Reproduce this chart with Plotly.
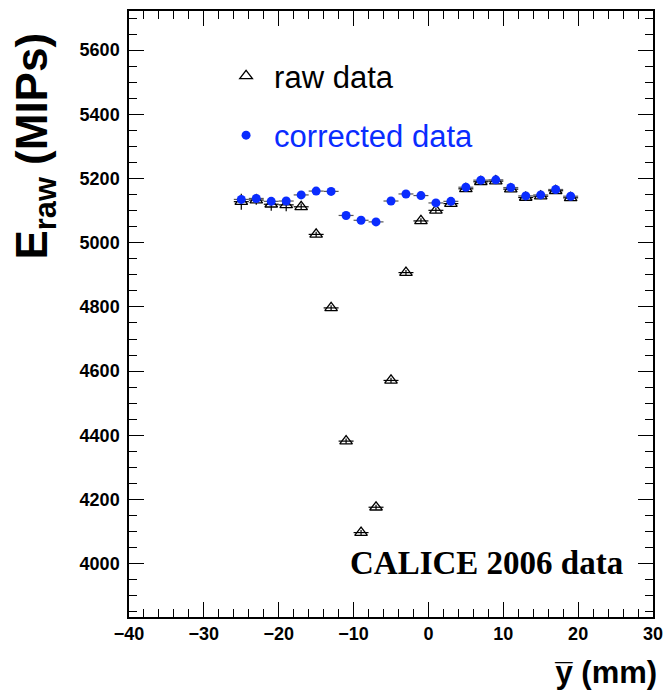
import plotly.graph_objects as go

y_pos = [-25, -23, -21, -19, -17, -15, -13, -11, -9, -7, -5, -3, -1, 1, 3, 5, 7, 9, 11, 13, 15, 17, 19]
raw_e = [5128, 5133, 5120, 5118, 5112, 5026, 4797, 4382, 4097, 4176, 4571, 4907, 5068, 5101, 5122,
         5168, 5190, 5192, 5167, 5141, 5145, 5162, 5140]
raw_err = [25, 15, 20, 20, 10, 8, 8, 8, 8, 8, 8, 8, 8, 8, 8, 8, 8, 8, 8, 8, 8, 8, 8]
corr_e = [5135, 5138, 5129, 5130, 5149, 5161, 5160, 5085, 5070, 5065, 5130, 5152, 5147, 5124, 5129,
          5173, 5195, 5196, 5172, 5146, 5149, 5166, 5145]
x_halfwidth = [1] * len(y_pos)

fig = go.Figure()
fig.add_trace(go.Scatter(
    x=y_pos, y=raw_e, mode="markers", name="raw data",
    marker=dict(symbol="triangle-up-open", size=11, color="black", line=dict(width=1.3, color="black")),
    error_x=dict(type="data", array=x_halfwidth, color="black", thickness=1.2, width=0),
    error_y=dict(type="data", array=raw_err, color="black", thickness=1.2, width=0),
    legendgroup="a",
))
fig.add_trace(go.Scatter(
    x=y_pos, y=corr_e, mode="markers",
    name="<span style='color:#0a2cff'>corrected data</span>",
    marker=dict(symbol="circle", size=9, color="#0a2cff"),
    error_x=dict(type="data", array=x_halfwidth, color="#555555", thickness=1.2, width=0),
    legendgroup="b",
))

axis_font = dict(family="Liberation Sans, Arial", size=18, color="black", weight="bold")
fig.update_xaxes(
    range=[-40, 30], tickmode="linear", tick0=-40, dtick=10,
    ticks="inside", ticklen=15, tickwidth=1.2, tickcolor="black",
    minor=dict(dtick=2, ticks="inside", ticklen=8, tickwidth=1.2, tickcolor="black", showgrid=False),
    showline=True, linecolor="black", linewidth=1.5, mirror="allticks",
    showgrid=False, zeroline=False, tickfont=axis_font, automargin=False,
)
fig.update_yaxes(
    range=[3834, 5722], tickmode="linear", tick0=4000, dtick=200,
    ticks="inside", ticklen=15, tickwidth=1.2, tickcolor="black",
    minor=dict(dtick=50, ticks="inside", ticklen=8, tickwidth=1.2, tickcolor="black", showgrid=False),
    showline=True, linecolor="black", linewidth=1.5, mirror="allticks",
    showgrid=False, zeroline=False, tickfont=axis_font, ticklabelstandoff=4, automargin=False,
)

fig.update_layout(
    width=666, height=695,
    margin=dict(l=129, r=13, t=11, b=78),
    paper_bgcolor="white", plot_bgcolor="white",
    showlegend=True,
    legend=dict(
        x=0.17, y=0.937, xanchor="left", yanchor="top",
        font=dict(family="Liberation Sans, Arial", size=31, color="black"),
        bgcolor="rgba(0,0,0,0)", traceorder="grouped", tracegroupgap=16, itemwidth=46,
    ),
    annotations=[
        dict(text="<b>CALICE 2006 data</b>", xref="paper", yref="paper", x=0.947, y=0.0886,
             xanchor="right", yanchor="middle", showarrow=False,
             font=dict(family="Liberation Serif, Times New Roman", size=33, color="black")),
        dict(text="<b>E<sub>raw</sub> (MIPs)</b>", xref="paper", yref="paper", x=-0.18, y=0.968,
             xanchor="center", yanchor="top", textangle=-90, showarrow=False,
             font=dict(family="Liberation Sans, Arial", size=44, color="black")),
        dict(text="<b>y\u0305 (mm)</b>", xref="paper", yref="paper", x=1.011, y=-0.092,
             xanchor="right", yanchor="middle", showarrow=False,
             font=dict(family="Liberation Sans, Arial", size=31, color="black")),
    ],
)

fig.write_html("out.html", config={"displayModeBar": False},
               post_script="document.body.style.margin='0';document.body.style.padding='0';")
